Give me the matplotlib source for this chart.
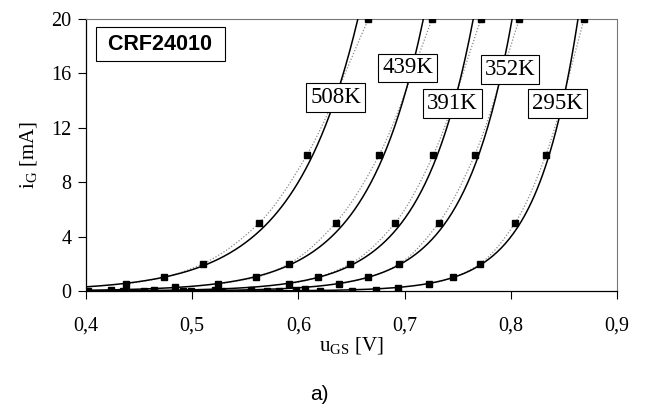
import numpy as np
import matplotlib
matplotlib.use('Agg')
import matplotlib.pyplot as plt
from matplotlib.ticker import FuncFormatter

# ---- data ----
temps = ['508K', '439K', '391K', '352K', '295K']
u_508 = [0.402, 0.424, 0.438, 0.473, 0.510, 0.563, 0.608, 0.666]
i_508 = [0.02, 0.10, 0.50, 1.0, 2.0, 5.0, 10.0, 20.0]
u_439 = [0.435, 0.464, 0.484, 0.524, 0.560, 0.591, 0.635, 0.676, 0.726]
i_439 = [0.01, 0.05, 0.30, 0.50, 1.0, 2.0, 5.0, 10.0, 20.0]
u_391 = [0.438, 0.491, 0.521, 0.555, 0.591, 0.618, 0.649, 0.691, 0.727, 0.772]
i_391 = [0.00, 0.02, 0.05, 0.10, 0.50, 1.0, 2.0, 5.0, 10.0, 20.0]
u_352 = [0.455, 0.528, 0.570, 0.598, 0.606, 0.638, 0.666, 0.695, 0.732, 0.766, 0.808]
i_352 = [0.00, 0.01, 0.03, 0.05, 0.15, 0.50, 1.0, 2.0, 5.0, 10.0, 20.0]
u_295 = [0.499, 0.582, 0.620, 0.650, 0.673, 0.694, 0.723, 0.746, 0.771, 0.804, 0.833, 0.869]
i_295 = [0.00, 0.00, 0.01, 0.02, 0.10, 0.25, 0.50, 1.0, 2.0, 5.0, 10.0, 20.0]

series_u = [u_508, u_439, u_391, u_352, u_295]
series_i = [i_508, i_439, i_391, i_352, i_295]

x_ticks = [0.4, 0.5, 0.6, 0.7, 0.8, 0.9]
y_ticks = [0, 4, 8, 12, 16, 20]

# label box anchor points (data coords)
lab_x = [0.635, 0.703, 0.745, 0.799, 0.844]
lab_y = [14.2, 16.4, 13.8, 16.3, 13.8]


def pchip(x, y, xs):
    x = np.asarray(x, float); y = np.asarray(y, float)
    h = np.diff(x); d = np.diff(y) / h
    n = len(x)
    m = np.zeros(n)
    m[0] = d[0]; m[-1] = d[-1]
    for k in range(1, n - 1):
        if d[k - 1] * d[k] <= 0:
            m[k] = 0
        else:
            w1 = 2 * h[k] + h[k - 1]; w2 = h[k] + 2 * h[k - 1]
            m[k] = (w1 + w2) / (w1 / d[k - 1] + w2 / d[k])
    idx = np.clip(np.searchsorted(x, xs) - 1, 0, n - 2)
    t = (xs - x[idx]) / h[idx]
    h00 = 2 * t**3 - 3 * t**2 + 1; h10 = t**3 - 2 * t**2 + t
    h01 = -2 * t**3 + 3 * t**2; h11 = t**3 - t**2
    return h00 * y[idx] + h10 * h[idx] * m[idx] + h01 * y[idx + 1] + h11 * h[idx] * m[idx + 1]


fig = plt.figure(figsize=(6.46, 4.07), dpi=100)
ax = fig.add_axes([86 / 646, 1 - 291 / 407, 531 / 646, 272 / 407])
serif = 'Liberation Serif'

for u, i in zip(series_u, series_i):
    u = np.array(u); i = np.array(i)
    sel = i >= 0.5
    us = np.linspace(u[sel][0], u[sel][-1], 200)
    ax.plot(us, pchip(u[sel], i[sel], us), color='#8a8a8a', lw=0.9,
            ls=(0, (1, 1.5)), zorder=2)
    b, a = np.polyfit(u[sel], np.log(i[sel]), 1)
    xf = np.linspace(0.4, 0.9, 400)
    ax.plot(xf, np.exp(a + b * xf), color='black', lw=1.1, zorder=3)
    ax.plot(u, i, 's', color='black', ms=4.2, zorder=4)

for t, lx, ly in zip(temps, lab_x, lab_y):
    ax.text(lx, ly, t, family=serif, fontsize=16.5, ha='center', va='center',
            zorder=5,
            bbox=dict(boxstyle='square,pad=0.17', fc='white', ec='black', lw=0.8))

ax.text(0.031, 0.946, ' CRF24010 ', transform=ax.transAxes, family='Liberation Sans',
        fontweight='bold', fontsize=15.5, ha='left', va='top', zorder=5,
        bbox=dict(boxstyle='square,pad=0.3', fc='white', ec='black', lw=0.8))

ax.set_xlim(0.4, 0.9)
ax.set_ylim(0, 20)
ax.set_xticks(x_ticks)
ax.set_yticks(y_ticks)
ax.xaxis.set_major_formatter(FuncFormatter(lambda v, p: f'{v:.1f}'.replace('.', ',')))
ax.yaxis.set_major_formatter(FuncFormatter(lambda v, p: f'{v:.0f}'))
ax.tick_params(direction='out', length=5.5, width=0.8, labelsize=14.5)
ax.tick_params(axis='x', pad=13)
ax.tick_params(axis='y', pad=5)
for lab in ax.get_xticklabels() + ax.get_yticklabels():
    lab.set_family(serif)
for s in ['top', 'right']:
    ax.spines[s].set_color('#777777')
    ax.spines[s].set_linestyle((0, (1, 1)))
    ax.spines[s].set_linewidth(0.8)
for s in ['left', 'bottom']:
    ax.spines[s].set_linewidth(0.9)

ax.set_xlabel(r'u$_{\mathregular{GS}}$ [V]', family=serif, fontsize=15, labelpad=0)
ax.set_ylabel(r'i$_{\mathregular{G}}$ [mA]', family=serif, fontsize=15, labelpad=8)

fig.text(319 / 646, 1 - 394 / 407, 'a)', family='Liberation Sans', fontsize=15,
         ha='center', va='center')

fig.savefig('out.png', dpi=100)
